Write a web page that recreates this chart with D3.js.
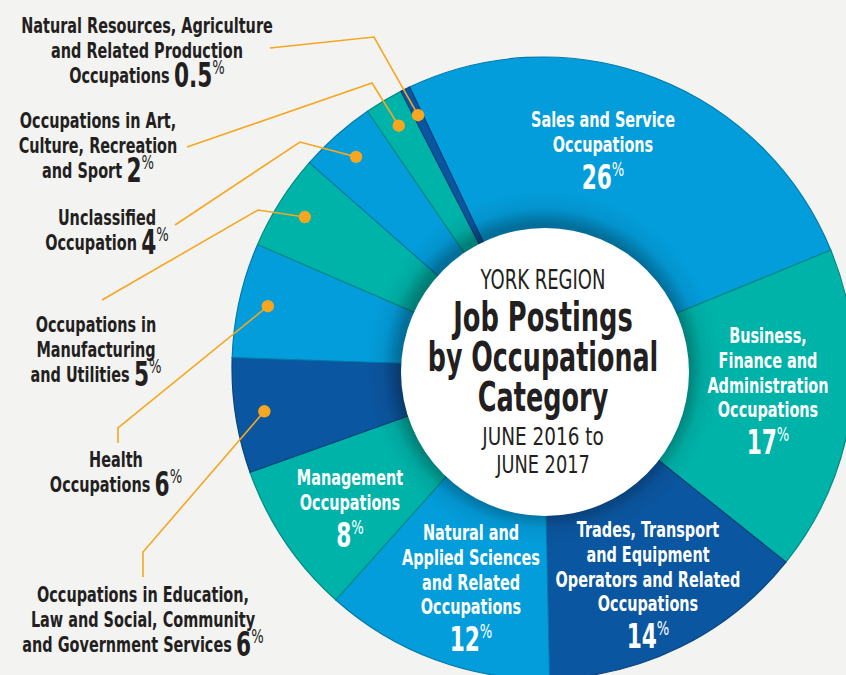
<!DOCTYPE html>
<html>
<head>
<meta charset="utf-8">
<script src="https://cdn.jsdelivr.net/npm/d3@7"></script>
<style>
html, body {
  margin: 0px;
  padding: 0px;
  background: #f3f3f2;
}
svg text {
  font-family: "DejaVu Sans Condensed", "Liberation Sans Narrow", Roboto, sans-serif;
}
</style>
</head>
<body>
<svg id="chart" width="846" height="675"></svg>
<script>
// data
var categories = [
  "Sales and Service Occupations",
  "Business, Finance and Administration Occupations",
  "Trades, Transport and Equipment Operators and Related Occupations",
  "Natural and Applied Sciences and Related Occupations",
  "Management Occupations",
  "Occupations in Education, Law and Social, Community and Government Services",
  "Health Occupations",
  "Occupations in Manufacturing and Utilities",
  "Unclassified Occupation",
  "Occupations in Art, Culture, Recreation and Sport",
  "Natural Resources, Agriculture and Related Production Occupations"
];
var shares = [26, 17, 14, 12, 8, 6, 6, 5, 4, 2, 0.5];
var shareLabels = ["26", "17", "14", "12", "8", "6", "6", "5", "4", "2", "0.5"];
var colorKeys = ["light", "teal", "navy", "light", "teal", "navy", "light", "teal", "light", "teal", "navy"];

// how each label is broken into lines
var labelLines = [
  ["Sales and Service", "Occupations"],
  ["Business,", "Finance and", "Administration", "Occupations"],
  ["Trades, Transport", "and Equipment", "Operators and Related", "Occupations"],
  ["Natural and", "Applied Sciences", "and Related", "Occupations"],
  ["Management", "Occupations"],
  ["Occupations in Education,", "Law and Social, Community", "and Government Services"],
  ["Health", "Occupations"],
  ["Occupations in", "Manufacturing", "and Utilities"],
  ["Unclassified", "Occupation"],
  ["Occupations in Art,", "Culture, Recreation", "and Sport"],
  ["Natural Resources, Agriculture", "and Related Production", "Occupations"]
];
var inside = [true, true, true, true, true, false, false, false, false, false, false];

var titleLines = ["YORK REGION", "Job Postings", "by Occupational", "Category", "JUNE 2016 to", "JUNE 2017"];

// ---- layout ----
var cx = 543, cy = 368, outerR = 311, innerR = 120, holeR = 144;
var palette = { light: "#039ddb", teal: "#00b3a9", navy: "#0b56a0" };
var dark = "#231f20", gold = "#f6a71f";
var sx = 0.73;

// where the text blocks sit (first baseline)
var labelPos = [
  [603, 127], [768, 343], [648, 537], [471, 540], [350, 485],
  [143, 602], [116, 467], [96, 332], [107, 225], [98, 128], [147, 33]
];
// leader line start and elbow for the outside labels
var leaders = {
  5: [[143, 577], [143, 552]],
  6: [[118, 443], [118, 428]],
  7: [[102, 300], [258, 210]],
  8: [[175, 225], [300, 142]],
  9: [[187, 147], [372, 83]],
  10: [[270, 48], [374, 37]]
};

var svg = d3.select("#chart");
var defs = svg.append("defs");

var shade = defs.append("radialGradient").attr("id", "shade");
shade.append("stop").attr("offset", holeR / 178).attr("stop-color", "#000").attr("stop-opacity", 0.3);
shade.append("stop").attr("offset", 0.9).attr("stop-color", "#000").attr("stop-opacity", 0.06);
shade.append("stop").attr("offset", 1).attr("stop-color", "#000").attr("stop-opacity", 0);

var startA = -25.4 * Math.PI / 180;
var pie = d3.pie().sort(null).value(function (d) { return d; })
  .startAngle(startA).endAngle(startA + 2 * Math.PI);
var arcs = pie(shares);

var arc = d3.arc().innerRadius(innerR).outerRadius(outerR);
var dotArc = d3.arc().innerRadius(282).outerRadius(282);

var ring = svg.append("g").attr("transform", "translate(" + cx + "," + cy + ")");

ring.selectAll("path.slice")
  .data(arcs)
  .enter()
  .append("path")
  .attr("class", "slice")
  .attr("d", arc)
  .attr("fill", function (d, i) { return palette[colorKeys[i]]; })
  .attr("stroke", function (d, i) { return d3.color(palette[colorKeys[i]]).darker(0.7); })
  .attr("stroke-width", 1.2);

ring.append("circle").attr("r", 178).attr("fill", "url(#shade)");
ring.append("circle").attr("cx", 2).attr("cy", 4).attr("r", holeR).attr("fill", "#fff");

// center title
var title = svg.append("g").attr("transform", "translate(" + cx + ",0)");
var tStyle = [
  { y: 289, size: 26, weight: "normal", s: 0.77 },
  { y: 331, size: 40, weight: "bold", s: 0.715 },
  { y: 371, size: 40, weight: "bold", s: 0.705 },
  { y: 411, size: 40, weight: "bold", s: 0.71 },
  { y: 445, size: 25, weight: "normal", s: 0.82 },
  { y: 473, size: 25, weight: "normal", s: 0.79 }
];
titleLines.forEach(function (t, i) {
  var st = tStyle[i];
  title.append("text")
    .attr("transform", "translate(0," + st.y + ") scale(" + st.s + ",1)")
    .attr("text-anchor", "middle")
    .attr("font-size", st.size)
    .attr("font-weight", st.weight)
    .attr("fill", dark)
    .text(t);
});

// leader lines + dots
Object.keys(leaders).forEach(function (k) {
  var i = +k;
  var c = dotArc.centroid(arcs[i]);
  var dot = [cx + c[0], cy + c[1]];
  var pts = leaders[k].concat([dot]);
  svg.append("path")
    .attr("d", d3.line()(pts))
    .attr("fill", "none")
    .attr("stroke", gold)
    .attr("stroke-width", 1.6);
  svg.append("circle")
    .attr("cx", dot[0]).attr("cy", dot[1]).attr("r", 6.2)
    .attr("fill", gold);
});

// labels
var lineH = 24.8;
labelLines.forEach(function (lines, i) {
  var p = labelPos[i];
  var col = inside[i] ? "#fff" : dark;
  var g = svg.append("g").attr("transform", "translate(" + p[0] + "," + p[1] + ")");
  lines.forEach(function (ln, j) {
    var t = g.append("text")
      .attr("transform", "translate(0," + (j * lineH) + ") scale(" + sx + ",1)")
      .attr("text-anchor", "middle")
      .attr("font-size", 22)
      .attr("font-weight", "bold")
      .attr("fill", col);
    t.append("tspan").text(ln);
    if (!inside[i] && j === lines.length - 1) {
      t.append("tspan").attr("font-size", 33).attr("dy", 4).text("\u2009" + shareLabels[i]);
      t.append("tspan").attr("font-size", 20).attr("font-weight", "normal").attr("dy", -13).text("%");
    }
  });
  if (inside[i]) {
    var n = g.append("text")
      .attr("transform", "translate(0," + ((lines.length - 1) * lineH + 37) + ") scale(" + sx + ",1)")
      .attr("text-anchor", "middle")
      .attr("font-weight", "bold")
      .attr("fill", col);
    n.append("tspan").attr("font-size", 33).text(shareLabels[i]);
    n.append("tspan").attr("font-size", 20).attr("font-weight", "normal").attr("dy", -13).text("%");
  }
});
</script>
</body>
</html>
